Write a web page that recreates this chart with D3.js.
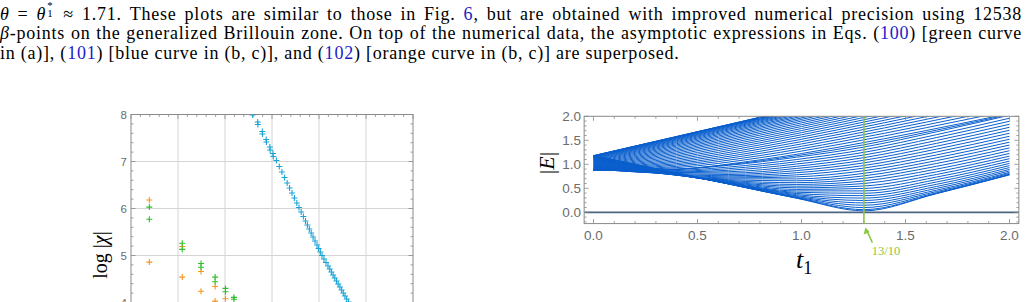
<!DOCTYPE html>
<html><head><meta charset="utf-8">
<script src="https://cdn.jsdelivr.net/npm/d3@7/dist/d3.min.js"></script>
<style>
html,body{margin:0;padding:0;background:#fff;width:1027px;height:302px;overflow:hidden;}
#cap{position:absolute;left:0;top:2px;width:1027px;font-family:"Liberation Serif","DejaVu Serif",serif;font-size:18px;line-height:19.4px;color:#000;}
#cap div{white-space:nowrap;}
#cap .r{color:#1c1cc8;}
#cap .sp{position:relative;display:inline-block;width:0.45em;height:1em;margin-left:1px;}
#cap .sp .a{position:absolute;left:0;top:-0.12em;font-size:0.6em;line-height:0.9;}
#cap .sp .b{position:absolute;left:0;top:0.66em;font-size:0.6em;line-height:0.9;}
svg{position:absolute;left:0;top:0;}
</style></head>
<body>
<div id="cap">
<div><span id="l1"><i>θ</i> = <i>θ</i><span class="sp"><span class="a">*</span><span class="b">1</span></span> ≈ 1.71. These plots are similar to those in Fig. <span class="r">6</span>, but are obtained with improved numerical precision using 12538</span></div>
<div><span id="l2"><i>β</i>-points on the generalized Brillouin zone. On top of the numerical data, the asymptotic expressions in Eqs. (<span class="r">100</span>) [green curve</span></div>
<div><span id="l3">in (a)], (<span class="r">101</span>) [blue curve in (b, c)], and (<span class="r">102</span>) [orange curve in (b, c)] are superposed.</span></div>
</div>
<svg id="chart" width="1027" height="302"></svg>
<script>
// ---------- Left panel data (log|chi|) ----------
const leftYTicks = [4, 5, 6, 7, 8];
const orangeX = [0.39, 0.39, 1.09, 1.09, 1.49, 1.49, 1.79, 1.79, 2.01];
const orangeY = [6.18, 4.86, 5.19, 4.54, 4.66, 4.24, 4.34, 4.03, 4.08];
const greenX = [0.39, 0.39, 1.09, 1.09, 1.49, 1.49, 1.79, 1.79, 2.01, 2.01, 2.19, 2.19];
const greenY = [6.03, 5.77, 5.26, 5.13, 4.83, 4.75, 4.54, 4.44, 4.30, 4.23, 4.11, 4.07];
const blueX = [2.589, 2.696, 2.700, 2.794, 2.798, 2.877, 2.881, 2.955, 2.960, 3.021, 3.028, 3.094, 3.155, 3.211, 3.268, 3.323, 3.374, 3.426, 3.477, 3.528, 3.574, 3.621, 3.668, 3.713, 3.753, 3.794, 3.834, 3.874, 3.915, 3.957, 3.991, 4.028, 4.064, 4.106, 4.149, 4.191, 4.228, 4.264, 4.300, 4.336, 4.372, 4.409, 4.445, 4.481, 4.517, 4.553, 4.589, 4.626];
const blueY = [7.99, 7.840, 7.787, 7.638, 7.585, 7.468, 7.415, 7.309, 7.245, 7.170, 7.106, 7.021, 6.894, 6.777, 6.660, 6.543, 6.436, 6.330, 6.223, 6.117, 6.021, 5.926, 5.830, 5.734, 5.649, 5.564, 5.479, 5.394, 5.309, 5.223, 5.149, 5.074, 5.000, 4.926, 4.851, 4.777, 4.713, 4.649, 4.585, 4.521, 4.457, 4.394, 4.330, 4.266, 4.202, 4.138, 4.074, 4.011];

// ---------- Right panel data (|E| vs t1) ----------
const rightXTicks = [0, 0.5, 1.0, 1.5, 2.0];
const rightXTickLabels = ["0.0", "0.5", "1.0", "1.5", "2.0"];
const rightYTicks = [0, 0.5, 1.0, 1.5, 2.0];
const rightYTickLabels = ["0.0", "0.5", "1.0", "1.5", "2.0"];
const tGridDown = [0, 0.325, 0.65, 0.975, 1.3, 1.65, 2.0];
const linesDown = [
  [1.180, 0.885, 0.590, 0.295, 0.030, 0.390, 0.780],
  [1.179, 0.884, 0.590, 0.298, 0.055, 0.395, 0.784],
  [1.177, 0.883, 0.591, 0.304, 0.098, 0.409, 0.793],
  [1.172, 0.880, 0.592, 0.315, 0.147, 0.433, 0.811],
  [1.167, 0.877, 0.593, 0.329, 0.196, 0.462, 0.832],
  [1.159, 0.873, 0.595, 0.347, 0.246, 0.499, 0.862],
  [1.151, 0.868, 0.598, 0.368, 0.296, 0.539, 0.894],
  [1.140, 0.862, 0.602, 0.392, 0.346, 0.584, 0.932],
  [1.128, 0.856, 0.606, 0.418, 0.396, 0.632, 0.973],
  [1.115, 0.850, 0.612, 0.446, 0.446, 0.682, 1.018],
  [1.101, 0.843, 0.618, 0.477, 0.497, 0.735, 1.066],
  [1.086, 0.836, 0.627, 0.510, 0.548, 0.789, 1.117],
  [1.071, 0.830, 0.636, 0.544, 0.600, 0.844, 1.170],
  [1.054, 0.824, 0.648, 0.580, 0.653, 0.901, 1.226],
  [1.036, 0.818, 0.661, 0.617, 0.706, 0.959, 1.283],
  [1.019, 0.814, 0.677, 0.656, 0.759, 1.018, 1.342],
  [1.001, 0.810, 0.695, 0.696, 0.812, 1.077, 1.401],
  [0.984, 0.809, 0.716, 0.738, 0.866, 1.136, 1.461],
  [0.968, 0.809, 0.738, 0.780, 0.921, 1.196, 1.522],
  [0.952, 0.811, 0.762, 0.824, 0.975, 1.256, 1.584],
  [0.936, 0.814, 0.788, 0.868, 1.030, 1.317, 1.647],
  [0.922, 0.820, 0.816, 0.913, 1.084, 1.377, 1.709],
  [0.909, 0.827, 0.845, 0.958, 1.139, 1.437, 1.771],
  [0.898, 0.837, 0.876, 1.005, 1.194, 1.497, 1.834],
  [0.888, 0.849, 0.909, 1.052, 1.249, 1.558, 1.897],
  [0.881, 0.863, 0.943, 1.099, 1.304, 1.618, 1.960],
  [0.875, 0.880, 0.979, 1.147, 1.359, 1.678, 2.022],
  [0.875, 0.883, 0.993, 1.177, 1.406, 1.712, 2.040]
];
const tGridUp = [0, 0.4, 0.8, 1.2, 1.6, 2.0];
const linesUp = [
  [1.180, 1.580, 1.980, 2.380, 2.780, 3.180],
  [1.179, 1.578, 1.978, 2.378, 2.775, 3.175],
  [1.177, 1.576, 1.975, 2.375, 2.770, 3.170],
  [1.172, 1.570, 1.968, 2.367, 2.760, 3.160],
  [1.167, 1.563, 1.960, 2.358, 2.750, 3.150],
  [1.159, 1.552, 1.948, 2.345, 2.740, 3.140],
  [1.151, 1.541, 1.936, 2.332, 2.730, 3.130],
  [1.140, 1.526, 1.919, 2.313, 2.710, 3.110],
  [1.128, 1.511, 1.901, 2.294, 2.690, 3.090],
  [1.115, 1.493, 1.880, 2.271, 2.665, 3.065],
  [1.101, 1.474, 1.858, 2.248, 2.640, 3.040],
  [1.086, 1.452, 1.832, 2.219, 2.610, 3.010],
  [1.071, 1.430, 1.806, 2.190, 2.580, 2.980],
  [1.054, 1.405, 1.776, 2.158, 2.545, 2.940],
  [1.036, 1.379, 1.746, 2.125, 2.510, 2.900],
  [1.019, 1.351, 1.713, 2.088, 2.470, 2.860],
  [1.001, 1.323, 1.679, 2.051, 2.430, 2.820],
  [0.984, 1.294, 1.643, 2.011, 2.390, 2.775],
  [0.968, 1.265, 1.607, 1.971, 2.350, 2.730],
  [0.952, 1.234, 1.568, 1.927, 2.302, 2.680],
  [0.936, 1.203, 1.528, 1.883, 2.253, 2.630],
  [0.922, 1.172, 1.488, 1.837, 2.204, 2.580],
  [0.909, 1.140, 1.447, 1.790, 2.154, 2.530],
  [0.898, 1.108, 1.404, 1.741, 2.101, 2.473],
  [0.888, 1.076, 1.360, 1.691, 2.047, 2.416],
  [0.881, 1.046, 1.316, 1.640, 1.992, 2.358],
  [0.875, 1.015, 1.271, 1.588, 1.936, 2.300],
  [0.872, 0.987, 1.227, 1.535, 1.879, 2.241],
  [0.870, 0.958, 1.182, 1.482, 1.821, 2.181],
  [0.871, 0.931, 1.137, 1.429, 1.763, 2.120],
  [0.875, 0.905, 1.093, 1.374, 1.704, 2.058]
];
const zeroLineT = [-0.045, 2.045];
const zeroLineE = [0, 0];
const markerT = 1.3;
const markerLabel = "13/10";

// ---------- Caption spacing: lines 1-2 justified to the full width ----------
(function () {
  const cap = document.getElementById("cap");
  const l2 = document.getElementById("l2");
  const w2 = l2.getBoundingClientRect().width;
  const ls = Math.max(0, (1012 - w2) / l2.textContent.length);
  cap.style.letterSpacing = ls.toFixed(3) + "px";
  ["l1", "l2"].forEach(id => {
    const el = document.getElementById(id);
    const w = el.getBoundingClientRect().width;
    const n = (el.textContent.match(/ /g) || []).length;
    el.style.wordSpacing = ((1022 - w) / n).toFixed(3) + "px";
  });
})();

// ---------- Drawing ----------
const svg = d3.select("#chart");
const frameCol = "#8a8a8a", labCol = "#6b6b6b", gridCol = "#d4d4d4";

// Left panel
const xL = d3.scaleLinear().domain([0, 6]).range([131, 413]);
const yL = d3.scaleLinear().domain([3, 8]).range([349.5, 114.5]);
const gL = svg.append("g");
gL.append("clipPath").attr("id", "clipL").append("rect")
  .attr("x", xL(0)).attr("y", yL(8)).attr("width", xL(6) - xL(0)).attr("height", yL(3) - yL(8));
gL.selectAll(".vg").data(d3.range(1, 6)).join("line")
  .attr("x1", d => xL(d)).attr("x2", d => xL(d)).attr("y1", yL(8)).attr("y2", yL(3))
  .attr("stroke", gridCol).attr("stroke-width", 1);
gL.selectAll(".hg").data([4, 5, 6, 7]).join("line")
  .attr("x1", xL(0)).attr("x2", xL(6)).attr("y1", d => yL(d)).attr("y2", d => yL(d))
  .attr("stroke", gridCol).attr("stroke-width", 1);
const lxMin = d3.range(0, 6.001, 0.2), lyMin = d3.range(3, 8.001, 0.2);
const isInt = d => Math.abs(d - Math.round(d)) < 1e-6;
gL.append("g").selectAll("line").data(lxMin).join("line")
  .attr("x1", d => xL(d)).attr("x2", d => xL(d)).attr("y1", yL(8))
  .attr("y2", d => yL(8) + (isInt(d) ? 4.5 : 2.5))
  .attr("stroke", frameCol).attr("stroke-width", 0.8);
gL.append("g").selectAll("line").data(lyMin).join("line")
  .attr("y1", d => yL(d)).attr("y2", d => yL(d)).attr("x1", xL(0))
  .attr("x2", d => xL(0) + (isInt(d) ? 4.5 : 2.5))
  .attr("stroke", frameCol).attr("stroke-width", 0.8);
gL.append("g").selectAll("line").data(lyMin).join("line")
  .attr("y1", d => yL(d)).attr("y2", d => yL(d)).attr("x1", xL(6))
  .attr("x2", d => xL(6) - (isInt(d) ? 4.5 : 2.5))
  .attr("stroke", frameCol).attr("stroke-width", 0.8);
gL.append("rect").attr("x", xL(0)).attr("y", yL(8)).attr("width", xL(6) - xL(0)).attr("height", yL(3) - yL(8))
  .attr("fill", "none").attr("stroke", frameCol).attr("stroke-width", 1);
gL.selectAll(".ylab").data(leftYTicks).join("text")
  .attr("x", xL(0) - 4).attr("y", d => yL(d)).attr("dy", "0.35em").attr("text-anchor", "end")
  .attr("font-family", "Liberation Sans, Arial, sans-serif").attr("font-size", 11.5).attr("fill", labCol)
  .text(d => d);
function plus(g, xs, ys, col, cls) {
  const pts = xs.map((x, i) => [x, ys[i]]);
  g.append("g").attr("clip-path", "url(#clipL)").selectAll("path." + cls).data(pts).join("path")
    .attr("class", cls)
    .attr("d", d => { const x = xL(d[0]), y = yL(d[1]); return `M${x-3},${y}H${x+3}M${x},${y-3}V${y+3}`; })
    .attr("stroke", col).attr("stroke-width", 1.1).attr("fill", "none");
}
plus(gL, orangeX, orangeY, "#f7941d", "or");
plus(gL, greenX, greenY, "#2dbf2d", "gr");
plus(gL, blueX, blueY, "#1ba3d6", "bl");
gL.append("text").attr("transform", "translate(107,255) rotate(-90)").attr("text-anchor", "middle")
  .attr("font-family", "Liberation Serif, DejaVu Serif, serif").attr("font-size", 20).attr("fill", "#000")
  .html('log |<tspan font-style="italic">χ</tspan>|');

// Right panel
const xR = d3.scaleLinear().domain([0, 2]).range([593.5, 1009.5]);
const yR = d3.scaleLinear().domain([0, 2]).range([212.3, 116.3]);
const tMin = -0.045, tMax = 2.045, eMin = -0.235, eMax = 2.0;
const gR = svg.append("g");
gR.append("clipPath").attr("id", "clipR").append("rect")
  .attr("x", xR(tMin)).attr("y", yR(eMax)).attr("width", xR(tMax) - xR(tMin)).attr("height", yR(eMin) - yR(eMax));
const lineGen = d3.line().x(d => xR(d[0])).y(d => yR(d[1])).curve(d3.curveMonotoneX);
const plotG = gR.append("g").attr("clip-path", "url(#clipR)");
const blueCol = "#0a5fcd";
plotG.selectAll("path.dn").data(linesDown).join("path").attr("class", "dn")
  .attr("d", row => lineGen(row.map((v, i) => [tGridDown[i], v])))
  .attr("fill", "none").attr("stroke", blueCol).attr("stroke-width", 1);
plotG.selectAll("path.up").data(linesUp).join("path").attr("class", "up")
  .attr("d", row => lineGen(row.map((v, i) => [tGridUp[i], v])))
  .attr("fill", "none").attr("stroke", blueCol).attr("stroke-width", 1);
plotG.append("path").attr("d", d3.line().x(d => xR(d[0])).y(d => yR(d[1])).curve(d3.curveLinear)(zeroLineT.map((t, i) => [t, zeroLineE[i]])))
  .attr("stroke", "#4d6580").attr("stroke-width", 1.8).attr("fill", "none");
const rxMin = d3.range(0, 2.001, 0.1), ryMin = d3.range(-0.2, 2.001, 0.1);
const isMaj = d => Math.abs(d * 2 - Math.round(d * 2)) < 1e-6;
[[yR(eMin), -1], [yR(eMax), 1]].forEach(([y0, s]) => {
  gR.append("g").selectAll("line").data(rxMin).join("line")
    .attr("x1", d => xR(d)).attr("x2", d => xR(d)).attr("y1", y0).attr("y2", d => y0 + s * (isMaj(d) ? 4.5 : 2.5))
    .attr("stroke", frameCol).attr("stroke-width", 0.8);
});
[[xR(tMin), 1], [xR(tMax), -1]].forEach(([x0, s]) => {
  gR.append("g").selectAll("line").data(ryMin).join("line")
    .attr("y1", d => yR(d)).attr("y2", d => yR(d)).attr("x1", x0).attr("x2", d => x0 + s * (isMaj(d) ? 4.5 : 2.5))
    .attr("stroke", frameCol).attr("stroke-width", 0.8);
});
gR.append("rect").attr("x", xR(tMin)).attr("y", yR(eMax)).attr("width", xR(tMax) - xR(tMin)).attr("height", yR(eMin) - yR(eMax))
  .attr("fill", "none").attr("stroke", frameCol).attr("stroke-width", 1);
gR.selectAll(".xl").data(rightXTicks).join("text")
  .attr("x", d => xR(d)).attr("y", 240).attr("text-anchor", "middle")
  .attr("font-family", "Liberation Sans, Arial, sans-serif").attr("font-size", 13.5).attr("fill", labCol)
  .text((d, i) => rightXTickLabels[i]);
gR.selectAll(".yl").data(rightYTicks).join("text")
  .attr("x", xR(tMin) - 3).attr("y", d => yR(d)).attr("dy", "0.36em").attr("text-anchor", "end")
  .attr("font-family", "Liberation Sans, Arial, sans-serif").attr("font-size", 13.5).attr("fill", labCol)
  .text((d, i) => rightYTickLabels[i]);
const greenCol = "#8cc63f";
gR.append("line").attr("x1", xR(markerT)).attr("x2", xR(markerT)).attr("y1", yR(eMax)).attr("y2", yR(eMin))
  .attr("stroke", greenCol).attr("stroke-width", 1.6);
const ax = xR(markerT) + 1.5, ay = yR(eMin) + 4;
gR.append("line").attr("x1", ax + 7).attr("y1", ay + 15).attr("x2", ax + 1).attr("y2", ay + 2)
  .attr("stroke", greenCol).attr("stroke-width", 1.5);
gR.append("path").attr("d", `M${ax},${ay} L${ax - 1.8},${ay + 7} L${ax + 4.2},${ay + 4.5} Z`).attr("fill", greenCol);
gR.append("text").attr("x", xR(markerT) + 22).attr("y", ay + 27).attr("text-anchor", "middle")
  .attr("font-family", "Liberation Serif, DejaVu Serif, serif").attr("font-size", 12.5).attr("fill", greenCol)
  .text(markerLabel);
gR.append("text").attr("transform", "translate(554,163) rotate(-90)").attr("text-anchor", "middle")
  .attr("font-family", "Liberation Serif, DejaVu Serif, serif").attr("font-size", 22).attr("fill", "#000")
  .html('|<tspan font-style="italic">E</tspan>|');
gR.append("text").attr("x", 796).attr("y", 268).attr("text-anchor", "start")
  .attr("font-family", "Liberation Serif, DejaVu Serif, serif").attr("font-size", 26).attr("fill", "#000")
  .html('<tspan font-style="italic">t</tspan><tspan font-size="18" dy="6">1</tspan>');
</script>
</body></html>
